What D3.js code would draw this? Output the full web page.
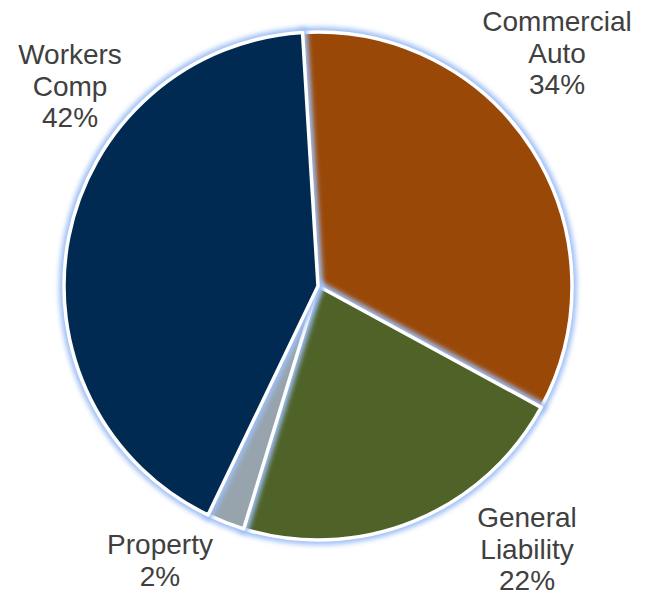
<!DOCTYPE html>
<html>
<head>
<meta charset="utf-8">
<script src="https://cdn.jsdelivr.net/npm/d3@7"></script>
<style>
  body { margin: 0; background: #fff; }
  svg { display: block; }
</style>
</head>
<body>
<div class="chart"></div>
<script>
var svgWidth = 647;
var svgHeight = 597;

// Data (clockwise from 12 o'clock)
var categories = ["Commercial Auto", "General Liability", "Property", "Workers Comp"];
var values = [33.9, 21.8, 2.4, 41.9];
var colors = ["#994808", "#4f6228", "#97a4ae", "#012a52"];

// label lines and their centre/baseline of the first line
var labelLines = [["Commercial", "Auto"], ["General", "Liability"], ["Property"], ["Workers", "Comp"]];
var labelPos = [[557, 31], [527, 527], [160, 554], [70, 64]];

var cx = 318, cy = 286, radius = 254;
var lineGap = 31.5;

var svg = d3.select(".chart")
  .append("svg")
  .attr("width", svgWidth)
  .attr("height", svgHeight);

var defs = svg.append("defs");
var glow = defs.append("filter")
  .attr("id", "glow")
  .attr("x", "-20%").attr("y", "-20%")
  .attr("width", "140%").attr("height", "140%");
glow.append("feGaussianBlur").attr("stdDeviation", 2.6);

var data = categories.map(function(c, i) {
  return { name: c, value: values[i], color: colors[i] };
});

var pie = d3.pie()
  .sort(null)
  .value(function(d) { return d.value; })
  .startAngle(-3.5 * Math.PI / 180)
  .endAngle(2 * Math.PI - 3.5 * Math.PI / 180);

var arc = d3.arc().innerRadius(0).outerRadius(radius);

var chart = svg.append("g")
  .attr("transform", "translate(" + cx + "," + cy + ")");

var slices = chart.selectAll("g.slice")
  .data(pie(data))
  .enter()
  .append("g")
  .attr("class", "slice");

// soft blue halo
slices.append("path")
  .attr("d", arc)
  .attr("fill", "none")
  .attr("stroke", "#9fbff5")
  .attr("stroke-width", 10)
  .attr("stroke-linejoin", "round")
  .attr("filter", "url(#glow)");

slices.append("path")
  .attr("d", arc)
  .attr("fill", function(d) { return d.data.color; })
  .attr("stroke", "#ffffff")
  .attr("stroke-width", 3.5)
  .attr("stroke-linejoin", "round");

// Labels
var labels = svg.selectAll("text.label")
  .data(data)
  .enter()
  .append("text")
  .attr("class", "label")
  .attr("text-anchor", "middle")
  .attr("font-family", "'Liberation Sans', Arial, sans-serif")
  .attr("font-size", 28)
  .attr("fill", "#404040")
  .attr("transform", function(d, i) {
    return "translate(" + labelPos[i][0] + "," + labelPos[i][1] + ")";
  });

labels.each(function(d, i) {
  var t = d3.select(this);
  var lines = labelLines[i].concat([Math.round(d.value) + "%"]);
  lines.forEach(function(l, j) {
    t.append("tspan").attr("x", 0).attr("y", j * lineGap).text(l);
  });
});
</script>
</body>
</html>
